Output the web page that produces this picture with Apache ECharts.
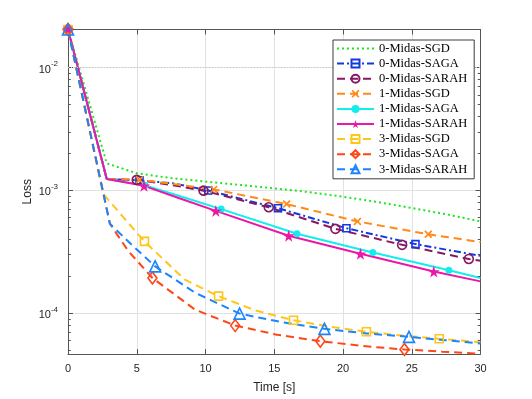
<!DOCTYPE html>
<html><head><meta charset="utf-8">
<script src="https://cdn.jsdelivr.net/npm/echarts@6/dist/echarts.min.js"></script>
<style>html,body{margin:0;padding:0;background:#fff}#c{width:532px;height:399px}</style>
</head><body><div id="c"></div>
<script>
// ---------------- data ----------------
const seriesNames = ['0-Midas-SGD','0-Midas-SAGA','0-Midas-SARAH','1-Midas-SGD','1-Midas-SAGA','1-Midas-SARAH','3-Midas-SGD','3-Midas-SAGA','3-Midas-SARAH'];

const t0SGD  = [0, 2.82, 5, 7.5, 10, 12.5, 15, 17.5, 20, 22.5, 25, 27.5, 30];
const v0SGD  = [0.0204, 1.66e-3, 1.38e-3, 1.26e-3, 1.18e-3, 1.11e-3, 1.04e-3, 9.7e-4, 8.9e-4, 8.05e-4, 7.2e-4, 6.4e-4, 5.6e-4];
const m0SGD  = [];

const t0SAGA = [0, 2.82, 5.2, 7.7, 10.2, 15.27, 20.25, 25.27, 30];
const v0SAGA = [0.0204, 1.24e-3, 1.21e-3, 1.14e-3, 1.0e-3, 7.17e-4, 4.93e-4, 3.66e-4, 2.94e-4];
const m0SAGA = [0, 2, 4, 5, 6, 7];

const t0SARAH = [0, 2.82, 5.0, 7.5, 9.86, 14.6, 19.45, 24.3, 29.15, 30];
const v0SARAH = [0.0204, 1.24e-3, 1.22e-3, 1.11e-3, 9.96e-4, 7.3e-4, 4.87e-4, 3.61e-4, 2.77e-4, 2.68e-4];
const m0SARAH = [0, 2, 4, 5, 6, 7, 8];

const t1SGD  = [0, 2.82, 5.2, 7.9, 10.6, 15.9, 21.05, 26.2, 30];
const v1SGD  = [0.0204, 1.24e-3, 1.22e-3, 1.12e-3, 1.02e-3, 7.75e-4, 5.6e-4, 4.4e-4, 3.8e-4];
const m1SGD  = [0, 2, 4, 5, 6, 7];

const t1SAGA = [0, 2.82, 5.6, 8.4, 11.14, 16.65, 22.17, 27.7, 30];
const v1SAGA = [0.0204, 1.24e-3, 1.1e-3, 8.8e-4, 7.05e-4, 4.44e-4, 3.13e-4, 2.24e-4, 1.94e-4];
const m1SAGA = [0, 2, 4, 5, 6, 7];

const t1SARAH = [0, 2.82, 5.53, 8.1, 10.75, 16.05, 21.27, 26.6, 30];
const v1SARAH = [0.0204, 1.24e-3, 1.09e-3, 8.65e-4, 6.82e-4, 4.28e-4, 3.05e-4, 2.19e-4, 1.82e-4];
const m1SARAH = [0, 2, 4, 5, 6, 7];

const t3SGD  = [0, 2.55, 4.0, 5.56, 8.5, 10.95, 13.6, 16.4, 19.0, 21.7, 24.3, 27.0, 30];
const v3SGD  = [0.0204, 9.4e-4, 6.1e-4, 3.85e-4, 1.88e-4, 1.38e-4, 1.06e-4, 8.79e-5, 7.8e-5, 7.08e-5, 6.6e-5, 6.21e-5, 5.83e-5];
const m3SGD  = [0, 3, 5, 7, 9, 11];

const t3SAGA = [0, 3.05, 4.4, 6.14, 9.25, 12.16, 15.2, 18.35, 21.4, 24.47, 27.2, 30];
const v3SAGA = [0.0204, 5.35e-4, 3.2e-4, 1.94e-4, 1.07e-4, 7.96e-5, 6.7e-5, 5.94e-5, 5.43e-5, 5.08e-5, 4.88e-5, 4.7e-5];
const m3SAGA = [0, 3, 5, 7, 9];

const t3SARAH = [0, 3.05, 4.64, 6.34, 9.25, 12.48, 15.5, 18.65, 21.7, 24.8, 27.4, 30];
const v3SARAH = [0.0204, 5.35e-4, 3.61e-4, 2.41e-4, 1.47e-4, 9.95e-5, 8.5e-5, 7.48e-5, 6.87e-5, 6.44e-5, 6.05e-5, 5.69e-5];
const m3SARAH = [0, 3, 5, 7, 9];

const xTickStep = 5;
const xMin = 0, xMax = 30;
const yMin = 4.67e-5, yMax = 0.0204;
const yMinor = [5e-5,6e-5,7e-5,8e-5,9e-5,2e-4,3e-4,4e-4,5e-4,6e-4,7e-4,8e-4,9e-4,2e-3,3e-3,4e-3,5e-3,6e-3,7e-3,8e-3,9e-3];

// ---------------- styles ----------------
const STAR = 'path://M50,0 L61,35 L98,35 L68,57 L79,91 L50,70 L21,91 L32,57 L2,35 L39,35 Z';
const XMARK = 'path://M0,1.5 L1.5,0 L5,3.5 L8.5,0 L10,1.5 L6.5,5 L10,8.5 L8.5,10 L5,6.5 L1.5,10 L0,8.5 L3.5,5 Z';
const axisCol = '#555555';
const txtCol = '#262626';

function mk(name, t, v, marks, color, type, symbol, size, filled) {
  return {
    name, type: 'line', z: 3,
    data: t.map((x, i) => ({ value: [x, v[i]], symbol: marks.includes(i) ? symbol : 'none' })),
    symbol: symbol, symbolSize: size, showSymbol: true, showAllSymbol: true,
    lineStyle: { color, width: 2, type },
    itemStyle: filled ? { color, borderWidth: 0 } : { color: 'rgba(255,255,255,0)', borderColor: color, borderWidth: 1.6 },
    emphasis: { disabled: true }, silent: true
  };
}

const series = [
  { type: 'line', name: '_grid', z: 1, data: [[0, yMax]], symbol: 'none', lineStyle: { width: 0 }, silent: true,
    markLine: { silent: true, animation: false, symbol: ['none', 'none'], label: { show: false },
      lineStyle: { color: '#c8c8c8', type: [1, 2], width: 1 },
      data: yMinor.map(v => ({ yAxis: v })) } },
  { type: 'line', name: '_ticks', z: 6, data: [[0, yMax]], symbol: 'none', lineStyle: { width: 0 }, silent: true,
    markLine: { silent: true, animation: false, symbol: ['none', 'none'], label: { show: false },
      lineStyle: { color: axisCol, type: 'solid', width: 1 },
      data: yMinor.map(v => [{ coord: [xMin, v] }, { coord: [xMin + 0.2, v] }])
        .concat(yMinor.map(v => [{ coord: [xMax - 0.2, v] }, { coord: [xMax, v] }])) } },
  mk(seriesNames[0], t0SGD, v0SGD, m0SGD, '#1EE61E', [2, 3], 'none', 0, true),
  mk(seriesNames[1], t0SAGA, v0SAGA, m0SAGA, '#1438E0', [7, 3, 2, 3], 'rect', 7, false),
  mk(seriesNames[2], t0SARAH, v0SARAH, m0SARAH, '#861960', [8, 5], 'circle', 9, false),
  mk(seriesNames[3], t1SGD, v1SGD, m1SGD, '#FF8A1A', [8, 5], XMARK, 8, true),
  mk(seriesNames[4], t1SAGA, v1SAGA, m1SAGA, '#12EEEE', 'solid', 'circle', 7, true),
  mk(seriesNames[5], t1SARAH, v1SARAH, m1SARAH, '#EE16A8', 'solid', STAR, 12, true),
  mk(seriesNames[6], t3SGD, v3SGD, m3SGD, '#FFC61A', [8, 5], 'rect', 8, false),
  mk(seriesNames[7], t3SAGA, v3SAGA, m3SAGA, '#FF4619', [8, 5], 'diamond', [9, 12], false),
  mk(seriesNames[8], t3SARAH, v3SARAH, m3SARAH, '#1A85FF', [8, 5], 'triangle', 11, false)
];

function yLabel(v) {
  const e = Math.log10(v);
  const r = Math.round(e);
  if (Math.abs(e - r) > 1e-6) return '';
  return '{b|10}{s|' + r + '}';
}

const legendData = seriesNames.map((n, i) => i === 0 ? { name: n, itemStyle: { opacity: 0 } } : { name: n });

const option = {
  animation: false,
  backgroundColor: '#ffffff',
  grid: { left: 68, right: 51.5, top: 29.5, bottom: 44, containLabel: false },
  legend: {
    data: legendData, orient: 'vertical', left: 333, top: 40,
    padding: [2, 7, 3, 3], itemGap: 2.1, itemWidth: 37, itemHeight: 10,
    backgroundColor: '#ffffff', borderColor: '#3c3c3c', borderWidth: 1, borderRadius: 0,
    textStyle: { fontFamily: 'Liberation Serif', fontSize: 12.5, color: '#000' },
    selectedMode: false, z: 10
  },
  xAxis: [
    { type: 'value', min: xMin, max: xMax, interval: xTickStep, position: 'bottom',
      axisLine: { show: true, onZero: false, lineStyle: { color: axisCol, width: 1 } },
      axisTick: { show: true, inside: true, length: 5, lineStyle: { color: axisCol } },
      axisLabel: { color: txtCol, fontSize: 11, fontFamily: 'Liberation Sans', margin: 9 },
      splitLine: { show: true, lineStyle: { color: '#e2e2e2', width: 1 } },
      name: 'Time [s]', nameLocation: 'middle', nameGap: 28, nameMoveOverlap: false,
      nameTextStyle: { fontSize: 12, color: txtCol, fontFamily: 'Liberation Sans' } },
    { type: 'value', min: xMin, max: xMax, interval: xTickStep, position: 'top',
      axisLine: { show: true, onZero: false, lineStyle: { color: axisCol, width: 1 } },
      axisTick: { show: true, inside: true, length: 5, lineStyle: { color: axisCol } },
      axisLabel: { show: false }, splitLine: { show: false } }
  ],
  yAxis: [
    { type: 'log', logBase: 10, min: yMin, max: yMax, position: 'left',
      axisLine: { show: true, onZero: false, lineStyle: { color: axisCol, width: 1 } },
      axisTick: { show: true, inside: true, length: 5, lineStyle: { color: axisCol } },
      axisLabel: { formatter: yLabel, margin: 10, showMinLabel: false, showMaxLabel: false,
        rich: {
          b: { fontSize: 11, fontFamily: 'Liberation Sans', color: txtCol, lineHeight: 15, verticalAlign: 'bottom' },
          s: { fontSize: 8, fontFamily: 'Liberation Sans', color: txtCol, lineHeight: 15, verticalAlign: 'top' }
        } },
      splitLine: { show: true, lineStyle: { color: '#e2e2e2', width: 1 } },
      minorTick: { show: false }, minorSplitLine: { show: false },
      name: 'Loss', nameLocation: 'middle', nameGap: 34, nameMoveOverlap: false,
      nameTextStyle: { fontSize: 12, color: txtCol, fontFamily: 'Liberation Sans' } },
    { type: 'log', logBase: 10, min: yMin, max: yMax, position: 'right',
      axisLine: { show: true, onZero: false, lineStyle: { color: axisCol, width: 1 } },
      axisTick: { show: true, inside: true, length: 5, lineStyle: { color: axisCol } },
      axisLabel: { show: false }, splitLine: { show: false } }
  ],
  series: series
};

const chart = echarts.init(document.getElementById('c'), null, { renderer: 'canvas' });
chart.setOption(option);
</script>
</body></html>
